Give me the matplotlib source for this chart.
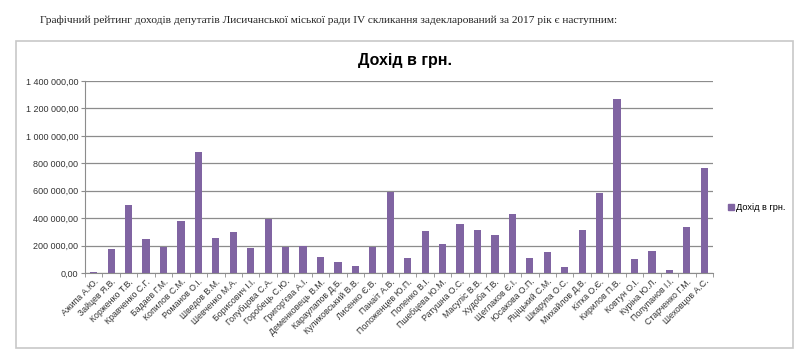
import matplotlib.pyplot as plt
from matplotlib.patches import Rectangle
from matplotlib.ticker import FuncFormatter, FixedLocator

names = ["Ажипа А.Ю.", "Зайцев Я.В.", "Корженко Т.В.", "Кравченко С.Г.", "Бадаев Г.М.",
         "Копилов С.М.", "Романов О.І.", "Шведов В.М.", "Шевченко М.А.", "Борисович І.І.",
         "Голубцова С.А.", "Горобець С.Ю.", "Григор'єва А.І.", "Деменковець В.М.",
         "Караулапов Д.Б.", "Куликовський В.В.", "Лисенко Є.В.", "Панаіт А.В.",
         "Положенцев Ю.П.", "Попенко В.І.", "Пшебцева Ю.М.", "Ратушна О.С.",
         "Масуліс В.В.", "Худоба Т.В.", "Щеглаков Є.І.", "Юсакова О.П.",
         "Яціцький С.М.", "Шкарупа О.С.", "Михайлов Д.В.", "Кітка О.Є.",
         "Кирилов П.В.", "Ковтун О.І.", "Куріна Ю.Л.", "Полупанов І.І.",
         "Старченко Г.М.", "Шеховцов А.С."]
income = [10000, 175000, 495000, 250000, 190000, 378000, 885000, 255000, 298000, 182000,
          397000, 186000, 200000, 116000, 82000, 53000, 191000, 591000, 111000, 308000,
          211000, 356000, 315000, 274000, 429000, 111000, 153000, 46000, 315000, 581000,
          1271000, 99000, 162000, 19000, 339000, 763000]
yticks = [0, 200000, 400000, 600000, 800000, 1000000, 1200000, 1400000]

purple = "#8064a2"
plt.rcParams['font.family'] = ['Liberation Sans', 'DejaVu Sans']

fig = plt.figure(figsize=(8, 3.54), dpi=100)
fig.patch.set_facecolor("white")

# outer chart frame (like the Excel chart area)
fig.patches.append(Rectangle((16 / 800, 6 / 354), 777 / 800, 307 / 354,
                             transform=fig.transFigure, fill=False,
                             edgecolor="#c8c8c8", linewidth=1.2))

fig.text(40 / 800, 1 - 20 / 354,
         "Графічний рейтинг доходів депутатів Лисичанської міської ради IV скликання "
         "задекларований за 2017 рік є наступним:",
         family="Liberation Serif", fontsize=8.2, va="center", ha="left", color="#222222")

ax = fig.add_axes([85 / 800, 1 - 273 / 354, 628 / 800, 192 / 354])
x = range(len(names))
ax.bar(x, income, width=0.42, color=purple, zorder=3)

ax.set_xlim(-0.5, len(names) - 0.5)
ax.set_ylim(0, 1400000)
ax.set_yticks(yticks)
ax.yaxis.set_major_formatter(FuncFormatter(
    lambda v, p: "{:,.2f}".format(v).replace(",", " ").replace(".", ",")))
ax.grid(axis="y", color="#8c8c8c", linewidth=0.9, zorder=0)

ax.set_xticks(list(x))
ax.set_xticklabels(names, rotation=45, ha="right", rotation_mode="anchor",
                   fontsize=6.3, color="#333333")
ax.tick_params(axis="x", length=0, pad=3)
ax.xaxis.set_minor_locator(FixedLocator([i - 0.5 for i in range(len(names) + 1)]))
ax.tick_params(axis="x", which="minor", length=3, color="#8c8c8c")
ax.tick_params(axis="y", length=3, color="#8c8c8c", labelsize=6.5, labelcolor="#333333", pad=2)

for s in ["top", "right"]:
    ax.spines[s].set_visible(False)
ax.spines["left"].set_color("#8c8c8c")
ax.spines["bottom"].set_color("#8c8c8c")

fig.text(405 / 800, 1 - 60 / 354, "Дохід в грн.", fontsize=11.5, fontweight="bold",
         ha="center", va="center")

fig.legend([Rectangle((0, 0), 1, 1, color=purple)], ["Дохід в грн."],
           loc="center left", bbox_to_anchor=(720 / 800, 1 - 208 / 354),
           frameon=False, fontsize=6.6, handlelength=0.6, handleheight=0.6,
           handletextpad=0.3)

fig.savefig("out.png", dpi=100)
